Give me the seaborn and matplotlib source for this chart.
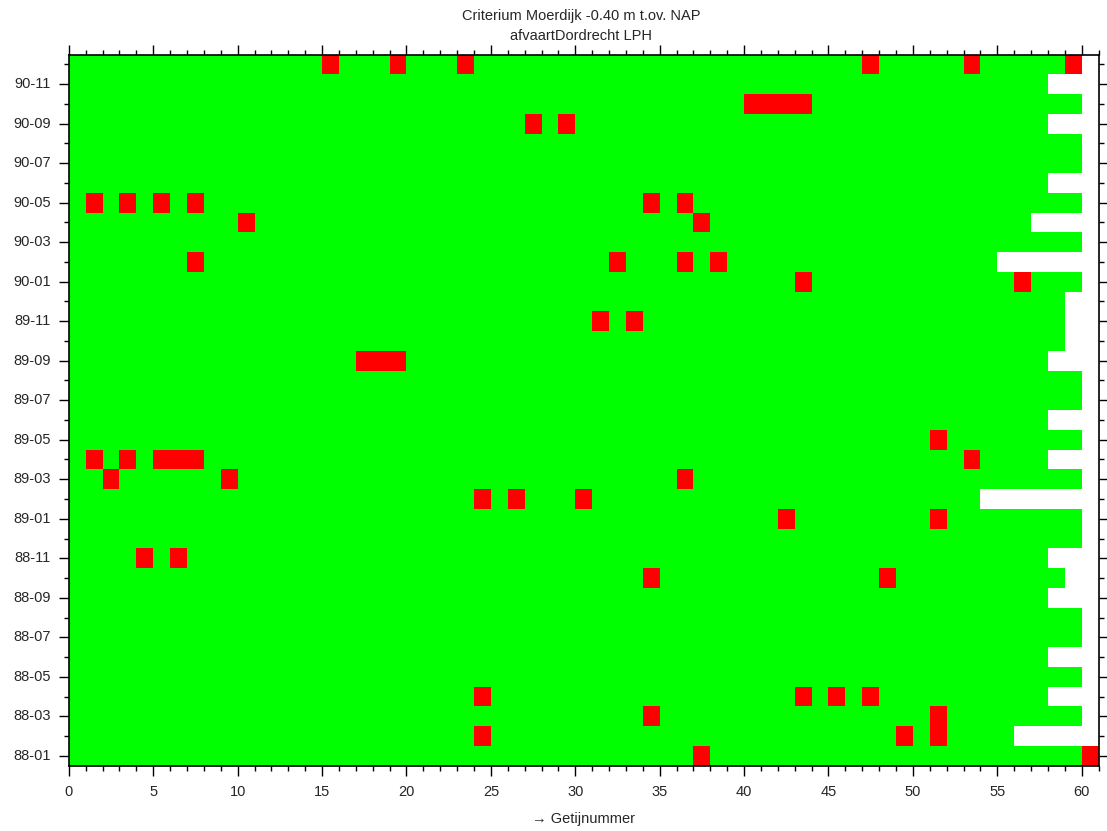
import numpy as np
import pandas as pd
import matplotlib
matplotlib.use("Agg")
import matplotlib.pyplot as plt
from matplotlib.colors import ListedColormap
from matplotlib.ticker import FixedLocator
import seaborn as sns

# Months (yy-mm), number of tides recorded per month, and the tide numbers
# at which the criterion was exceeded.
months = [
    "88-01", "88-02", "88-03", "88-04", "88-05", "88-06",
    "88-07", "88-08", "88-09", "88-10", "88-11", "88-12",
    "89-01", "89-02", "89-03", "89-04", "89-05", "89-06",
    "89-07", "89-08", "89-09", "89-10", "89-11", "89-12",
    "90-01", "90-02", "90-03", "90-04", "90-05", "90-06",
    "90-07", "90-08", "90-09", "90-10", "90-11", "90-12",
]
tide_counts = [
    61, 56, 60, 58, 60, 58, 60, 60, 58, 59, 58, 60,
    60, 54, 60, 58, 60, 58, 60, 60, 58, 59, 59, 59,
    60, 55, 60, 57, 60, 58, 60, 60, 58, 60, 58, 60,
]
failed_tides = [
    [38, 61], [25, 50, 52], [35, 52], [25, 44, 46, 48], [], [],
    [], [], [], [35, 49], [5, 7], [],
    [43, 52], [25, 27, 31], [3, 10, 37], [2, 4, 6, 7, 8, 54], [52], [],
    [], [], [18, 19, 20], [], [32, 34], [],
    [44, 57], [8, 33, 37, 39], [], [11, 38], [2, 4, 6, 8, 35, 37], [],
    [], [], [28, 30], [41, 42, 43, 44], [], [16, 20, 24, 48, 54, 60],
]
x_tick_values = list(range(0, 61, 5))

sns.set_style("white")
plt.rcParams["font.family"] = ["Liberation Sans", "DejaVu Sans"]
plt.rcParams["font.size"] = 10.5

# Status grid: 0 = criterion met, 1 = exceeded, NaN = no tide
n_cols = max(tide_counts)
grid = np.full((len(months), n_cols), np.nan)
for r, (count, fails) in enumerate(zip(tide_counts, failed_tides)):
    grid[r, :count] = 0
    for t in fails:
        grid[r, t - 1] = 1

# newest month on top
df = pd.DataFrame(grid[::-1], index=months[::-1], columns=range(1, n_cols + 1))

fig = plt.figure(figsize=(11.07, 8.31), dpi=100)
ax = fig.add_axes([0.0622, 0.0786, 0.9302, 0.8558])

sns.heatmap(
    df, ax=ax, cmap=ListedColormap(["#00ff00", "#ff0000"]),
    vmin=0, vmax=1, cbar=False, linewidths=0,
)

n_rows = len(months)
ax.set_xlim(0, n_cols)
ax.set_ylim(n_rows, 0)

for s in ax.spines.values():
    s.set_visible(True)
    s.set_color("black")
    s.set_linewidth(1.2)

# x axis: tide number, majors every 5, minors every tide
ax.xaxis.set_major_locator(FixedLocator(x_tick_values))
ax.xaxis.set_minor_locator(FixedLocator(range(0, n_cols + 1)))
ax.set_xticklabels([str(v) for v in x_tick_values], rotation=0)

# y axis: labels every second month
row_pos = [n_rows - 1 - m + 0.5 for m in range(n_rows)]
ax.yaxis.set_major_locator(FixedLocator(row_pos[::2]))
ax.yaxis.set_minor_locator(FixedLocator(row_pos[1::2]))
ax.set_yticklabels(months[::2], rotation=0)

ax.tick_params(axis="x", which="both", direction="out", bottom=True, top=True,
               labelbottom=True, labeltop=False, color="black", width=1)
ax.tick_params(axis="y", which="both", direction="out", left=True, right=True,
               labelleft=True, labelright=False, color="black", width=1)
ax.tick_params(which="major", length=7)
ax.tick_params(which="minor", length=3.5)
ax.tick_params(axis="x", which="major", pad=7, labelsize=10.5)
ax.tick_params(axis="y", which="major", pad=6, labelsize=10.5)

ax.set_xlabel("\u2192 Getijnummer", fontsize=10.5, labelpad=9)
ax.set_ylabel("")

fig.text(581 / 1107, 1 - 15.7 / 831, "Criterium Moerdijk -0.40 m t.ov. NAP",
         ha="center", va="center", fontsize=10.5)
fig.text(581 / 1107, 1 - 35.7 / 831, "afvaartDordrecht LPH",
         ha="center", va="center", fontsize=10.5)

fig.savefig("out.png", dpi=100, facecolor="white")
